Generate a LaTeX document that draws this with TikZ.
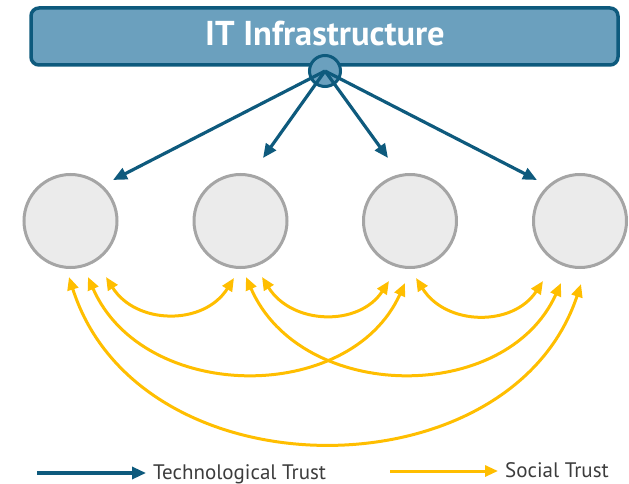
\documentclass[tikz,border=0pt]{standalone}
\usepackage{fontspec}
\setmainfont{PT Sans}
\usetikzlibrary{arrows.meta}
\definecolor{tblue}{RGB}{14,90,125}
\definecolor{barfill}{RGB}{107,160,190}
\definecolor{gold}{RGB}{255,190,0}
\definecolor{cfill}{RGB}{235,235,235}
\definecolor{cborder}{RGB}{165,165,165}
\definecolor{txt}{RGB}{60,60,60}
\begin{document}
\begin{tikzpicture}[x=1pt,y=-1pt,
  person/.style={circle,draw=cborder,fill=cfill,line width=3pt,minimum size=93pt,inner sep=0pt},
  tech/.style={draw=tblue,line width=3.2pt,-{Triangle[length=14pt,width=12pt]}},
  social/.style={draw=gold,line width=3pt,{Triangle[length=13pt,width=11pt]}-{Triangle[length=13pt,width=11pt]}},
  sociallegend/.style={draw=gold,line width=3pt,-{Triangle[length=13pt,width=11pt]}},
  legtext/.style={text=txt,font=\fontsize{21}{24}\selectfont,anchor=base west,inner sep=0pt}]
\useasboundingbox (0,0) rectangle (629,484);
% top bar
\node[draw=tblue, fill=barfill, line width=3.5pt, rounded corners=8pt,
      minimum width=587pt, minimum height=57pt, inner sep=0pt] (bar) at (324.5,36.5) {};
\node[text=white, font=\fontsize{34.5}{40}\selectfont\bfseries, anchor=base, inner sep=0pt] (title) at (325,45.5) {IT Infrastructure};
\node[circle, draw=tblue, fill=barfill, line width=3pt, minimum size=31pt, inner sep=0pt] (hub) at (325,71) {};
% persons
\node[person] (p1) at (70.5,221) {};
\node[person] (p2) at (240.5,221) {};
\node[person] (p3) at (410,221) {};
\node[person] (p4) at (580,221) {};
% technological trust
\coordinate (t1) at (113,180);
\coordinate (t2) at (263,158);
\coordinate (t3) at (388,158);
\coordinate (t4) at (537,180);
\draw[tech] (hub.center) -- (t1);
\draw[tech] (hub.center) -- (t2);
\draw[tech] (hub.center) -- (t3);
\draw[tech] (hub.center) -- (t4);
% social trust endpoints
\coordinate (a1) at (69,277);  \coordinate (b1) at (88,277);  \coordinate (c1) at (106,277);
\coordinate (a2) at (234,278); \coordinate (b2) at (246,277); \coordinate (c2) at (262,277);
\coordinate (a3) at (389,281); \coordinate (b3) at (405,283); \coordinate (c3) at (416,278);
\coordinate (a4) at (543,281); \coordinate (b4) at (561,283); \coordinate (c4) at (581,284);
\draw[social] (c1) .. controls +(30,48) and +(-30,48) .. (a2);
\draw[social] (c2) .. controls +(30,48) and +(-30,46) .. (a3);
\draw[social] (c3) .. controls +(30,48) and +(-30,46) .. (a4);
\draw[social] (b1) .. controls +(55,126) and +(-55,122) .. (b3);
\draw[social] (b2) .. controls +(55,126) and +(-55,122) .. (b4);
\draw[social] (a1) .. controls +(70,220) and +(-70,212) .. (c4);
% legend
\coordinate (lb1) at (37,473); \coordinate (lb2) at (146,473);
\coordinate (ly1) at (390,471); \coordinate (ly2) at (498,471);
\draw[tech] (lb1) -- (lb2);
\node[legtext] (ltech) at (153,479) {Technological Trust};
\draw[sociallegend] (ly1) -- (ly2);
\node[legtext] (lsoc) at (505,477.5) {Social Trust};
\end{tikzpicture}
\end{document}
